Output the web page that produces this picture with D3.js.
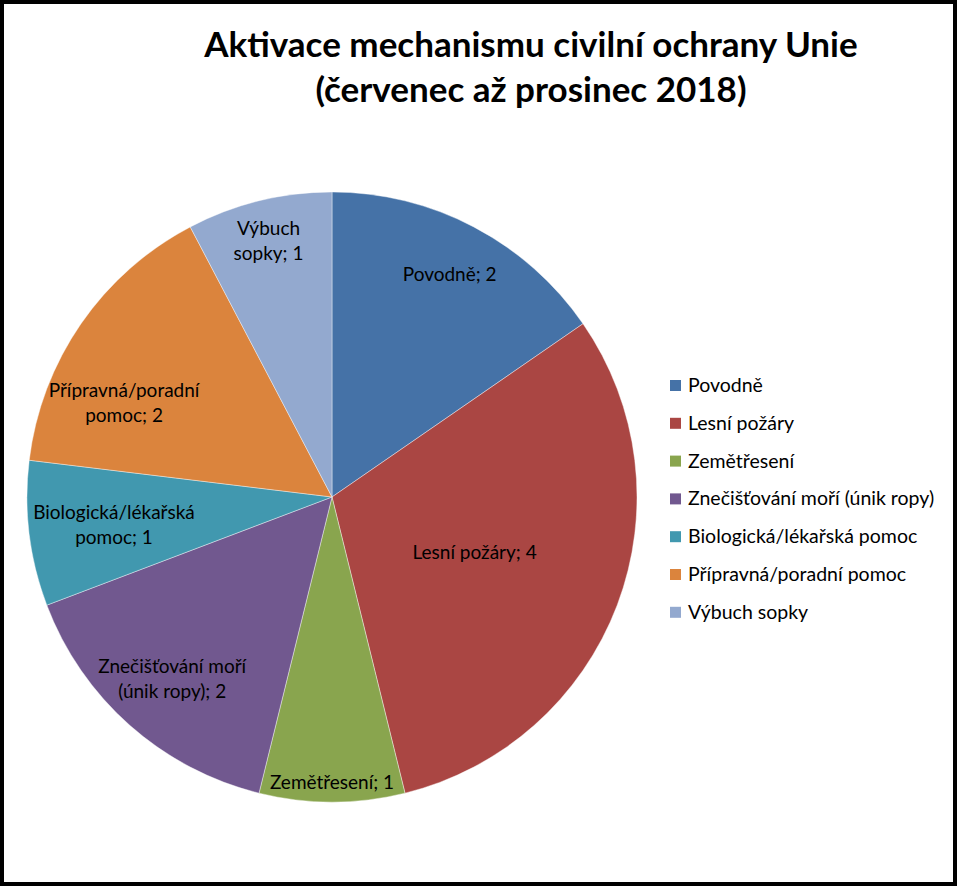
<!DOCTYPE html>
<html lang="cs">
<head>
  <meta charset="UTF-8">
  <title>Aktivace mechanismu civilní ochrany Unie</title>
  <script src="https://cdn.jsdelivr.net/npm/d3@7"></script>
</head>
<body>
<style>
  * {
    padding: 0;
    margin: 0;
  }
  body {
    background: #fff;
  }
  #chart text {
    font-family: Lato, "Open Sans", sans-serif;
  }
</style>

<div id="chart"></div>

<script>
  // data
  const categories = ["Povodně", "Lesní požáry", "Zemětřesení", "Znečišťování moří (únik ropy)",
    "Biologická/lékařská pomoc", "Přípravná/poradní pomoc", "Výbuch sopky"];
  const values = [2, 4, 1, 2, 1, 2, 1];
  // text of the slice labels, split into lines like in the picture
  const sliceLabels = [
    ["Povodně; 2"],
    ["Lesní požáry; 4"],
    ["Zemětřesení; 1"],
    ["Znečišťování moří", "(únik ropy); 2"],
    ["Biologická/lékařská", "pomoc; 1"],
    ["Přípravná/poradní", "pomoc; 2"],
    ["Výbuch", "sopky; 1"]
  ];
  const titleLines = ["Aktivace mechanismu civilní ochrany Unie", "(červenec až prosinec 2018)"];

  const colors = ["#4572A7", "#AA4643", "#89A54E", "#71588F", "#4198AF", "#DB843D", "#93A9CF"];
  // where each label sits: share of radius, and turn (degrees) from the slice middle
  const labelPos = [0.83, 0.5, 0.93, 0.79, 0.72, 0.75, 0.87];
  const labelTurn = [0, 0, 0, 0, 0, -10, 0];

  const $width = 958, $height = 887;
  const cx = 332, cy = 497, radius = 305;

  const svg = d3.select("#chart").append("svg")
    .attr("width", $width).attr("height", $height);

  svg.append("rect").attr("x", 0).attr("y", 0).attr("width", $width).attr("height", $height)
    .attr("fill", "#fff");

  // title
  svg.append("g").selectAll("text").data(titleLines).enter().append("text")
    .text(d => d)
    .attr("x", 531)
    .attr("y", (d, i) => 57 + i * 45)
    .attr("text-anchor", "middle")
    .attr("font-size", 35)
    .attr("font-weight", "bold")
    .attr("fill", "#000");

  // pie
  const pie = d3.pie().sort(null).value(d => d);
  const arcs = pie(values);
  const arc = d3.arc().innerRadius(0).outerRadius(radius);

  const g = svg.append("g").attr("transform", `translate(${cx},${cy})`);

  g.selectAll("path").data(arcs).enter().append("path")
    .attr("d", arc)
    .attr("fill", (d, i) => colors[i])
    .attr("stroke", "rgba(255,255,255,0.5)")
    .attr("stroke-width", 0.8);

  const labels = g.selectAll("text.lbl").data(arcs).enter().append("text")
    .attr("class", "lbl")
    .attr("transform", (d, i) => {
      const r = radius * labelPos[i];
      const a = (d.startAngle + d.endAngle) / 2 + labelTurn[i] * Math.PI / 180;
      return `translate(${r * Math.sin(a)},${-r * Math.cos(a)})`;
    })
    .attr("text-anchor", "middle")
    .attr("font-size", 19)
    .attr("fill", "#000");

  labels.each(function (d, i) {
    const lines = sliceLabels[i];
    const t = d3.select(this);
    lines.forEach((line, j) => {
      t.append("tspan")
        .attr("x", 0)
        .attr("y", (j - (lines.length - 1) / 2) * 25 + 8)
        .text(line);
    });
  });

  // legend
  const legend = svg.append("g").attr("transform", "translate(670,385)");
  const rows = legend.selectAll("g").data(categories).enter().append("g")
    .attr("transform", (d, i) => `translate(0,${i * 37.8})`);

  rows.append("rect")
    .attr("x", 0).attr("y", -5).attr("width", 11).attr("height", 11)
    .attr("fill", (d, i) => colors[i]);

  rows.append("text")
    .attr("x", 18).attr("y", 7)
    .attr("font-size", 19.5)
    .attr("fill", "#000")
    .text(d => d);

  // outer frame
  svg.append("rect").attr("x", 2).attr("y", 2).attr("width", $width - 5).attr("height", $height - 5)
    .attr("fill", "none").attr("stroke", "#000").attr("stroke-width", 4);
</script>

</body>
</html>
